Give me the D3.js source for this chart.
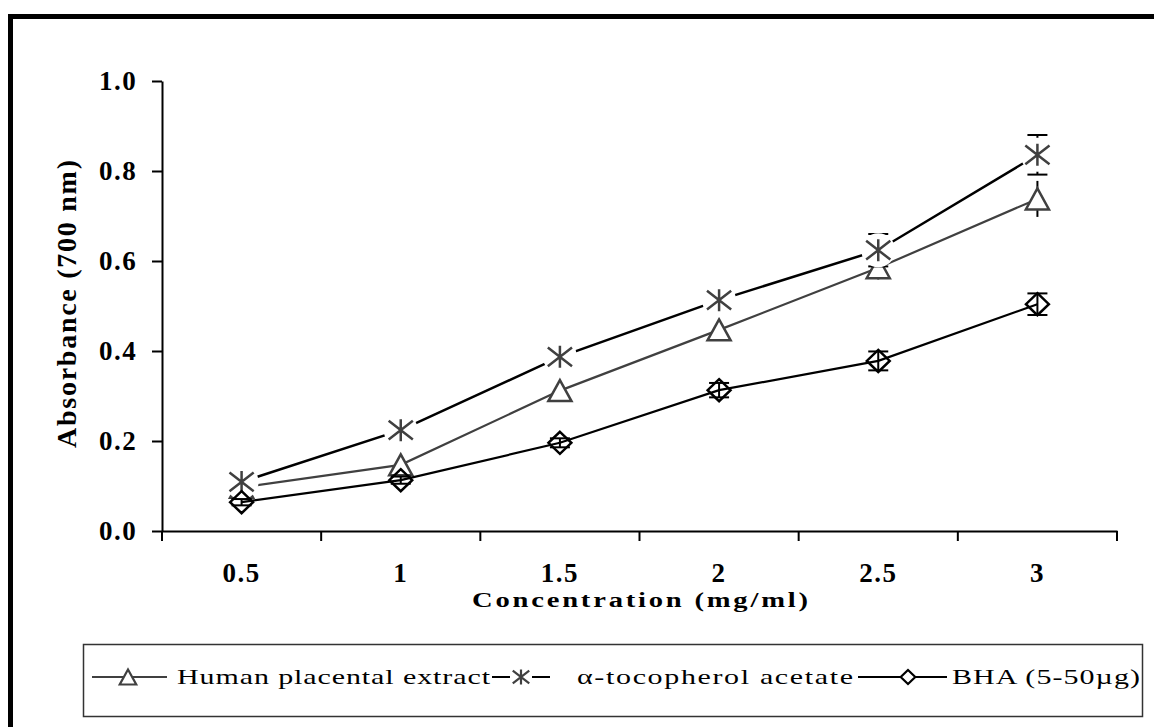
<!DOCTYPE html>
<html>
<head>
<meta charset="utf-8">
<script src="https://cdn.jsdelivr.net/npm/d3@7"></script>
<style>
  html, body { margin: 0; padding: 0; background: #fff; }
  svg { display: block; }
</style>
</head>
<body>
<svg id="chart" width="1154" height="727"></svg>
<script>
// data
const categories = ["0.5", "1", "1.5", "2", "2.5", "3"];
const hpe = [0.097, 0.147, 0.312, 0.447, 0.585, 0.738];
const hpeErr = [0.005, 0.01, 0.01, 0.01, 0.026, 0.04];
const toco = [0.109, 0.224, 0.387, 0.513, 0.624, 0.836];
const tocoErr = [0.01, 0.01, 0.015, 0.015, 0.036, 0.044];
const bha = [0.064, 0.113, 0.196, 0.313, 0.378, 0.504];
const bhaErr = [0.007, 0.008, 0.01, 0.016, 0.021, 0.024];
const yTicks = [0, 0.2, 0.4, 0.6, 0.8, 1.0];
const legendLabels = ["Human placental extract", "\u03b1-tocopherol acetate", "BHA (5-50\u00b5g)"];

const svg = d3.select("#chart");
const serif = "'Liberation Serif', 'DejaVu Serif', serif";

// outer frame (only top and left edges fall inside the picture)
svg.append("rect")
  .attr("x", 10.5).attr("y", 16.5)
  .attr("width", 1200).attr("height", 760)
  .attr("fill", "none").attr("stroke", "#000").attr("stroke-width", 5);

const x = d3.scaleBand().domain(categories).range([162, 1117]);
const y = d3.scaleLinear().domain([0, 1]).range([531, 81]);
const cx = d => x(d) + x.bandwidth() / 2;

// y axis
const gy = svg.append("g")
  .attr("transform", "translate(162,0)")
  .call(d3.axisLeft(y).tickValues(yTicks).tickFormat(d3.format(".1f")).tickSize(10).tickSizeOuter(0).tickPadding(24));
gy.select(".domain").attr("stroke", "#000").attr("stroke-width", 2);
gy.selectAll(".tick line").attr("stroke", "#000").attr("stroke-width", 2);
gy.selectAll(".tick text")
  .attr("fill", "#000")
  .attr("text-anchor", "middle")
  .attr("x", -44)
  .style("font-family", serif).style("font-weight", "bold").style("font-size", "27px")
  .attr("letter-spacing", "1.5px");

// x axis: labels at centres, ticks at category boundaries
const gx = svg.append("g")
  .attr("transform", "translate(0,531)")
  .call(d3.axisBottom(x).tickSize(0).tickSizeOuter(0).tickPadding(51));
gx.select(".domain").attr("stroke", "#000").attr("stroke-width", 2);
gx.selectAll(".tick text")
  .attr("fill", "#000")
  .attr("dy", 0)
  .style("font-family", serif).style("font-weight", "bold").style("font-size", "27px")
  .attr("letter-spacing", "1.5px");
const bounds = d3.range(categories.length + 1).map(i => x.range()[0] + i * x.step());
gx.selectAll("line.bound")
  .data(bounds)
  .join("line")
  .attr("class", "bound")
  .attr("x1", d => d).attr("x2", d => d)
  .attr("y1", 0).attr("y2", 10)
  .attr("stroke", "#000").attr("stroke-width", 2);

// axis titles
const tsx = 1.3;
svg.append("g")
  .attr("transform", `translate(640,607) scale(${tsx},1)`)
  .append("text")
  .attr("text-anchor", "middle")
  .attr("textLength", 336 / tsx)
  .style("font-family", serif).style("font-weight", "bold").style("font-size", "22px")
  .text("Concentration (mg/ml)");

svg.append("text")
  .attr("transform", "translate(76,304) rotate(-90)")
  .attr("text-anchor", "middle")
  .attr("textLength", 288)
  .style("font-family", serif).style("font-weight", "bold").style("font-size", "28px")
  .text("Absorbance (700 nm)");

// marker shapes, centred on the point
const triPath = s => `M0,${-s * 0.5}L${s * 0.55},${s * 0.5}L${-s * 0.55},${s * 0.5}Z`;
const diaPath = s => `M0,${-s * 0.5}L${s * 0.52},0L0,${s * 0.5}L${-s * 0.52},0Z`;
const starPath = s => {
  const h = s / 2, w = s * 0.55;
  return `M0,${-h}L0,${h}M${-w},${-h * 0.85}L${w},${h * 0.85}M${-w},${h * 0.85}L${w},${-h * 0.85}`;
};

const series = [
  { name: legendLabels[0], values: hpe, err: hpeErr, line: "#404040", lw: 2.2, marker: "tri", caps: false },
  { name: legendLabels[1], values: toco, err: tocoErr, line: "#000", lw: 2.5, marker: "star", caps: true },
  { name: legendLabels[2], values: bha, err: bhaErr, line: "#000", lw: 2.2, marker: "dia", caps: true }
];

const lineGen = d3.line().x(d => cx(d.c)).y(d => y(d.v));

series.forEach(s => {
  const pts = categories.map((c, i) => ({ c, v: s.values[i], e: s.err[i] }));
  const g = svg.append("g");

  g.append("path")
    .datum(pts)
    .attr("d", lineGen)
    .attr("fill", "none").attr("stroke", s.line).attr("stroke-width", s.lw);

  // error bars
  const eb = g.selectAll("g.eb").data(pts).join("g").attr("class", "eb");
  eb.append("line")
    .attr("x1", d => cx(d.c)).attr("x2", d => cx(d.c))
    .attr("y1", d => y(d.v + d.e)).attr("y2", d => y(d.v - d.e))
    .attr("stroke", "#000").attr("stroke-width", 2);
  if (s.caps) {
    [1, -1].forEach(sg => {
      eb.append("line")
        .attr("x1", d => cx(d.c) - 10).attr("x2", d => cx(d.c) + 10)
        .attr("y1", d => y(d.v + sg * d.e)).attr("y2", d => y(d.v + sg * d.e))
        .attr("stroke", "#000").attr("stroke-width", 2);
    });
  }

  const m = g.selectAll("g.mk").data(pts).join("g")
    .attr("class", "mk")
    .attr("transform", d => `translate(${cx(d.c)},${y(d.v)})`);
  if (s.marker === "tri") {
    m.append("path").attr("d", triPath(21))
      .attr("fill", "#fff").attr("stroke", "#404040").attr("stroke-width", 2.5);
  } else if (s.marker === "star") {
    m.append("circle").attr("r", 17).attr("fill", "#fff");
    m.append("path").attr("d", starPath(22))
      .attr("fill", "none").attr("stroke", "#404040").attr("stroke-width", 2.5);
  } else {
    m.append("path").attr("d", diaPath(22))
      .attr("fill", "none").attr("stroke", "#000").attr("stroke-width", 2.5);
  }
});

// legend
const leg = svg.append("g");
leg.append("rect")
  .attr("x", 83.5).attr("y", 644.5).attr("width", 1059).attr("height", 72)
  .attr("fill", "#fff").attr("stroke", "#333").attr("stroke-width", 1.5);

const legItems = [
  { s: series[0], x0: 92, x1: 167, mx: 128, tx: 177, tw: 313 },
  { s: series[1], x0: 492, x1: 550, mx: 521, tx: 577, tw: 276 },
  { s: series[2], x0: 858, x1: 947, mx: 908, tx: 952, tw: 188 }
];
const ly = 677;
const sx = 1.5;
legItems.forEach(it => {
  const g = leg.append("g");
  g.append("line")
    .attr("x1", it.x0).attr("x2", it.x1).attr("y1", ly).attr("y2", ly)
    .attr("stroke", it.s.line).attr("stroke-width", 2);
  const mk = g.append("g").attr("transform", `translate(${it.mx},${ly})`);
  if (it.s.marker === "tri") {
    mk.append("path").attr("d", triPath(15))
      .attr("fill", "#fff").attr("stroke", "#404040").attr("stroke-width", 2.2);
  } else if (it.s.marker === "star") {
    mk.append("rect").attr("x", -11).attr("y", -9).attr("width", 22).attr("height", 18).attr("fill", "#fff");
    mk.append("path").attr("d", starPath(15))
      .attr("fill", "none").attr("stroke", "#404040").attr("stroke-width", 2.2);
  } else {
    mk.append("path").attr("d", diaPath(14))
      .attr("fill", "#fff").attr("stroke", "#000").attr("stroke-width", 2.2);
  }
  g.append("g")
    .attr("transform", `translate(${it.tx},${ly + 7}) scale(${sx},1)`)
    .append("text")
    .attr("textLength", it.tw / sx)
    .style("font-family", serif).style("font-size", "20px")
    .attr("fill", "#000")
    .text(it.s.name);
});
</script>
</body>
</html>
